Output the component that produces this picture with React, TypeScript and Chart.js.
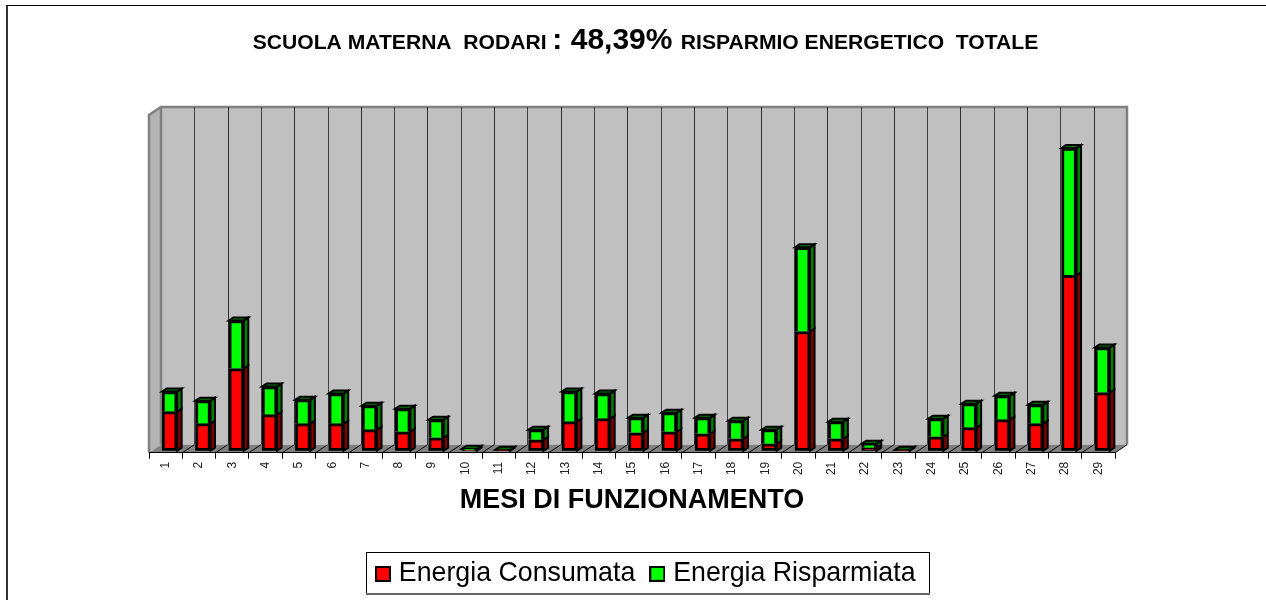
import React, { useEffect, useRef } from "react";
import { Chart, registerables } from "chart.js";

Chart.register(...registerables);

const FONT = '"Liberation Sans", Arial, sans-serif';

const months = ["1","2","3","4","5","6","7","8","9","10","11","12","13","14","15","16","17","18","19","20","21","22","23","24","25","26","27","28","29"];
const energiaConsumata = [39,27,82,36,27,27,21,19,13,1,0.5,11,29,32,18,19,17,12,7,119,12,3,0.5,14,23,31,27,175,58];
const energiaRisparmiata = [20,23,48,28,24,30,24,23,18,1,0.5,10,30,25,15,19,16,18,14,84,17,4,0.5,18,24,24,19,127,45];
const yMax = 337;

const titleParts = [
  { text: "SCUOLA MATERNA  RODARI ", size: 21.1 },
  { text: ": 48,39% ", size: 30 },
  { text: "RISPARMIO ENERGETICO  TOTALE", size: 21.1 },
];
const xAxisTitle = "MESI DI FUNZIONAMENTO";
const seriesNames = ["Energia Consumata", "Energia Risparmiata"];
const seriesColors = ["#ff0000", "#00ff00"];
const seriesSideColors = ["#800000", "#008000"];

const DEPTH_X = 12;
const DEPTH_Y = 8;
const BAR_DX = 4;
const BAR_DY = -2;
const BAR_SIDE_X = 4.5;
const BAR_SIDE_Y = 3;

function legendSwatch(color: string) {
  const c = document.createElement("canvas");
  c.width = 16;
  c.height = 16;
  const g = c.getContext("2d")!;
  g.fillStyle = "#000";
  g.fillRect(0, 0, 16, 16);
  g.fillStyle = color;
  g.fillRect(2, 2, 12, 12);
  return c;
}

const scenePlugin = {
  id: "scene",
  beforeDraw(chart: any) {
    const { ctx, chartArea: a, scales } = chart;
    ctx.save();
    ctx.fillStyle = "#fff";
    ctx.fillRect(0, 0, chart.width, chart.height);

    // outer frame
    ctx.fillStyle = "#333";
    ctx.fillRect(6, 5, 2, chart.height - 5);
    ctx.fillStyle = "#000";
    ctx.fillRect(6, 5, chart.width - 6, 1);

    // title
    ctx.textBaseline = "alphabetic";
    ctx.textAlign = "left";
    ctx.fillStyle = "#000";
    let total = 0;
    for (const p of titleParts) {
      ctx.font = `bold ${p.size}px ${FONT}`;
      total += ctx.measureText(p.text).width;
    }
    let tx = 645.5 - total / 2;
    for (const p of titleParts) {
      ctx.font = `bold ${p.size}px ${FONT}`;
      ctx.fillText(p.text, tx, 49);
      tx += ctx.measureText(p.text).width;
    }

    const L = a.left, R = a.right, T = a.top, B = a.bottom;
    const dx = DEPTH_X, dy = DEPTH_Y;

    // back wall
    ctx.fillStyle = "#c0c0c0";
    ctx.fillRect(L + dx, T - dy, R - L, B - T);
    // left wall
    ctx.beginPath();
    ctx.moveTo(L, T);
    ctx.lineTo(L + dx, T - dy);
    ctx.lineTo(L + dx, B - dy);
    ctx.lineTo(L, B);
    ctx.closePath();
    ctx.fillStyle = "#b4b4b4";
    ctx.fill();
    // floor
    ctx.beginPath();
    ctx.moveTo(L, B);
    ctx.lineTo(L + dx, B - dy);
    ctx.lineTo(R + dx, B - dy);
    ctx.lineTo(R, B);
    ctx.closePath();
    ctx.fillStyle = "#808080";
    ctx.fill();

    // wall outline
    ctx.strokeStyle = "#808080";
    ctx.lineWidth = 2.5;
    ctx.beginPath();
    ctx.moveTo(L, B);
    ctx.lineTo(L, T);
    ctx.lineTo(L + dx, T - dy);
    ctx.lineTo(R + dx, T - dy);
    ctx.lineTo(R + dx, B - dy);
    ctx.moveTo(L + dx, T - dy);
    ctx.lineTo(L + dx, B - dy);
    ctx.stroke();

    // gridlines on wall and floor
    const step = (R - L) / months.length;
    const xs = scales.x;
    for (let i = 0; i <= months.length; i++) {
      const px = i < months.length ? xs.getPixelForValue(i) - step / 2 : R;
      const rx = Math.round(px);
      if (i > 0 && i < months.length) {
        ctx.strokeStyle = i % 2 ? "#404040" : "#303030";
        ctx.lineWidth = 1;
        ctx.beginPath();
        ctx.moveTo(rx + dx + 0.5, T - dy);
        ctx.lineTo(rx + dx + 0.5, B - dy);
        ctx.stroke();
      }
      if (i > 0) {
        ctx.strokeStyle = "#000";
        ctx.lineWidth = 1;
        ctx.beginPath();
        ctx.moveTo(px, B);
        ctx.lineTo(px + dx, B - dy);
        ctx.stroke();
      }
    }

    // legend frame
    ctx.fillStyle = "#fff";
    ctx.fillRect(366, 552, 563, 41);
    ctx.strokeStyle = "#000";
    ctx.lineWidth = 1;
    ctx.strokeRect(366.5, 552.5, 563, 41);
    ctx.fillStyle = "#666";
    ctx.fillRect(366, 593, 564, 2);
    ctx.restore();
  },
  beforeDatasetsDraw(chart: any) {
    const { ctx } = chart;
    ctx.save();
    ctx.translate(BAR_DX, BAR_DY);
    chart.data.datasets.forEach((_: any, d: number) => {
      const meta = chart.getDatasetMeta(d);
      meta.data.forEach((bar: any) => {
        const right = bar.x + bar.width / 2;
        const left = bar.x - bar.width / 2;
        const top = Math.min(bar.y, bar.base);
        const bottom = Math.max(bar.y, bar.base);
        ctx.lineWidth = 2;
        ctx.strokeStyle = "#000";
        ctx.fillStyle = seriesSideColors[d];
        ctx.beginPath();
        ctx.moveTo(right, top);
        ctx.lineTo(right + BAR_SIDE_X, top - BAR_SIDE_Y);
        ctx.lineTo(right + BAR_SIDE_X, bottom - BAR_SIDE_Y);
        ctx.lineTo(right, bottom);
        ctx.closePath();
        ctx.fill();
        ctx.stroke();
        if (d === chart.data.datasets.length - 1) {
          ctx.beginPath();
          ctx.moveTo(left, top);
          ctx.lineTo(left + BAR_SIDE_X, top - BAR_SIDE_Y);
          ctx.lineTo(right + BAR_SIDE_X, top - BAR_SIDE_Y);
          ctx.lineTo(right, top);
          ctx.closePath();
          ctx.fill();
          ctx.stroke();
        }
      });
    });
  },
  afterDatasetsDraw(chart: any) {
    chart.ctx.restore();
  },
  afterLayout(chart: any) {
    const lg = chart.legend;
    lg.left += 16;
    lg.right += 16;
    const h = lg.bottom - lg.top;
    lg.top = 541;
    lg.bottom = 541 + h;
  },
};

export default function App() {
  const ref = useRef<HTMLCanvasElement | null>(null);

  useEffect(() => {
    const swatches = seriesColors.map(legendSwatch);
    const chart = new Chart(ref.current!, {
      type: "bar",
      data: {
        labels: months,
        datasets: [
          {
            label: seriesNames[0],
            data: energiaConsumata,
            backgroundColor: seriesColors[0],
            borderColor: "#000",
            borderWidth: 3,
            borderSkipped: false,
            barThickness: 15,
          },
          {
            label: seriesNames[1],
            data: energiaRisparmiata,
            backgroundColor: seriesColors[1],
            borderColor: "#000",
            borderWidth: { top: 3, left: 3, right: 3, bottom: 0 },
            borderSkipped: false,
            barThickness: 15,
          },
        ],
      } as any,
      options: {
        responsive: false,
        animation: false,
        events: [],
        layout: { padding: { left: 149, right: 151, top: 115, bottom: 0 } },
        plugins: {
          title: { display: false },
          tooltip: { enabled: false },
          legend: {
            position: "bottom",
            labels: {
              font: { family: FONT, size: 26.75 },
              color: "#000",
              padding: 19.5,
              usePointStyle: true,
              pointStyleWidth: 5,
              generateLabels(c: any) {
                return Chart.defaults.plugins.legend.labels
                  .generateLabels(c)
                  .map((it: any, i: number) => ({ ...it, pointStyle: swatches[i] }));
              },
            },
          },
        },
        scales: {
          x: {
            stacked: true,
            afterFit(s: any) {
              s.height = 91;
            },
            grid: { drawOnChartArea: false, drawTicks: true, tickLength: 6, color: "#000" },
            border: { display: true, color: "#000", width: 1 },
            ticks: {
              minRotation: 90,
              maxRotation: 90,
              autoSkip: false,
              color: "#222",
              padding: 3,
              font: { family: FONT, size: 12 },
            },
            title: {
              display: true,
              text: xAxisTitle,
              color: "#000",
              font: { family: FONT, size: 27, weight: "bold" },
              padding: { top: 0, bottom: 27 },
            },
          },
          y: {
            display: false,
            stacked: true,
            min: 0,
            max: yMax,
          },
        },
      } as any,
      plugins: [scenePlugin as any],
    });
    return () => chart.destroy();
  }, []);

  return (
    <canvas
      ref={ref}
      width={1266}
      height={600}
      style={{ position: "absolute", left: 0, top: 0, width: 1266, height: 600 }}
    />
  );
}
